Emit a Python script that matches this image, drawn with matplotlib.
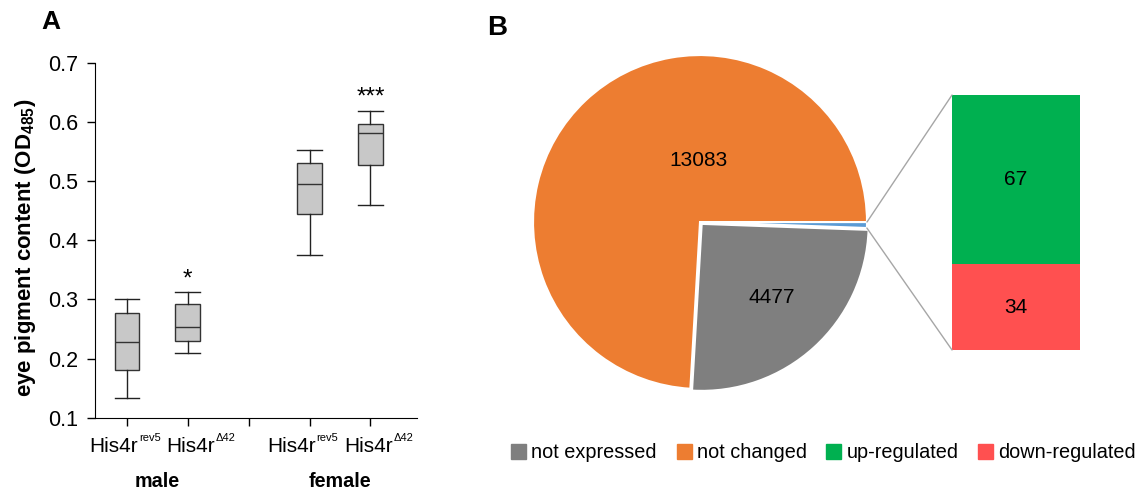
import matplotlib
matplotlib.use("Agg")
import matplotlib.pyplot as plt
from matplotlib.patches import Patch, ConnectionPatch
import numpy as np

plt.rcParams['font.family'] = ['Liberation Sans', 'DejaVu Sans']
plt.rcParams['mathtext.fontset'] = 'custom'
plt.rcParams['mathtext.rm'] = 'Liberation Sans'
plt.rcParams['mathtext.bf'] = 'Liberation Sans:bold'

# panel A: box summaries (whisker low, Q1, median, Q3, whisker high)
strain = "His4r"
alleles = ["rev5", "\u039442", "rev5", "\u039442"]
sexes = ["male", "female"]
whislo = [0.134, 0.209, 0.376, 0.459]
q1 = [0.181, 0.230, 0.444, 0.527]
med = [0.228, 0.254, 0.495, 0.582]
q3 = [0.277, 0.293, 0.530, 0.597]
whishi = [0.300, 0.312, 0.553, 0.619]
stars = ["", "*", "", "***"]
positions = [1, 2, 4, 5]

# panel B: gene counts
pie_labels = ["not expressed", "changed", "not changed"]
changed_labels = ["up-regulated", "down-regulated"]
not_expressed = 4477
not_changed = 13083
up = 67
down = 34

c_gray = "#7f7f7f"
c_orange = "#ed7d31"
c_blue = "#5b9bd5"
c_green = "#00b050"
c_red = "#ff5050"

fig = plt.figure(figsize=(11.47, 4.91), dpi=100)

# ---- A ----
axA = fig.add_axes([0.0828, 0.1493, 0.2805, 0.7224])
stats = []
for i in range(4):
    stats.append(dict(whislo=whislo[i], q1=q1[i], med=med[i], q3=q3[i],
                      whishi=whishi[i], fliers=[]))
axA.bxp(stats, positions=positions, widths=0.4, patch_artist=True,
        showfliers=False,
        boxprops=dict(facecolor="#c8c8c8", edgecolor="#333333", linewidth=1),
        medianprops=dict(color="#333333", linewidth=1),
        whiskerprops=dict(color="#222222", linewidth=1),
        capprops=dict(color="#222222", linewidth=1),
        capwidths=0.4)
for p, s, top in zip(positions, stars, whishi):
    if s:
        axA.annotate(s, xy=(p, top), xytext=(0, 7), textcoords="offset pixels",
                     ha="center", va="baseline", fontsize=17.5)
axA.set_xlim(0.478, 5.76)
axA.set_ylim(0.1, 0.7)
axA.set_xticks([1, 2, 3, 4, 5])
axA.set_xticklabels([])
axA.set_yticks(np.arange(0.1, 0.71, 0.1))
axA.set_yticklabels(["%.1f" % v for v in np.arange(0.1, 0.71, 0.1)], fontsize=15.5)
axA.tick_params(direction="out", length=6, width=1, pad=6)
axA.spines["top"].set_visible(False)
axA.spines["right"].set_visible(False)
axA.set_ylabel("eye pigment content (OD$_{\\mathbf{485}}$)", fontsize=16,
               fontweight="bold")
axA.yaxis.set_label_coords(-0.178, 0.48)

# genotype labels: strain name with a small superscript allele;
# the two labels of a pair are nudged apart so they do not run together
xt = axA.get_xaxis_transform()
nudge = [11, 27, 6, 22]
for p, a, dx in zip(positions, alleles, nudge):
    axA.annotate(strain, xy=(p, 0), xycoords=xt, xytext=(dx, -34),
                 textcoords="offset pixels", ha="right", va="baseline",
                 fontsize=15, annotation_clip=False)
    axA.annotate(a, xy=(p, 0), xycoords=xt, xytext=(dx + 1, -23),
                 textcoords="offset pixels", ha="left", va="baseline",
                 fontsize=8, annotation_clip=False)
for cx, lab in zip([1.5, 4.5], sexes):
    axA.annotate(lab, xy=(cx, 0), xycoords=xt, xytext=(0, -69),
                 textcoords="offset pixels", ha="center", va="baseline",
                 fontsize=14.2, fontweight="bold", annotation_clip=False)

fig.text(0.044, 0.955, "A", fontsize=19, fontweight="bold", va="center", ha="center")
fig.text(0.433, 0.943, "B", fontsize=20, fontweight="bold", va="center", ha="center")

# ---- B: pie ----
axP = fig.add_axes([0.4647, 0.2077, 0.2912, 0.6802])
changed = up + down
sizes = [not_expressed, changed, not_changed]
total = sum(sizes)
start = -(not_expressed + changed) / total * 360
wedges, _ = axP.pie(sizes, colors=[c_gray, c_blue, c_orange], startangle=start,
                    counterclock=True, explode=[0.015, 0, 0],
                    wedgeprops=dict(edgecolor="white", linewidth=1.5))
axP.set_xlim(-1, 1)
axP.set_ylim(-1, 1)
axP.set_aspect("equal")
axP.axis("off")
axP.text(-0.01, 0.37, str(not_changed), ha="center", va="center", fontsize=15)
axP.text(0.43, -0.45, str(not_expressed), ha="center", va="center", fontsize=15)

# ---- B: breakdown bar ----
axB = fig.add_axes([0.830, 0.2872, 0.1116, 0.5193])
axB.bar(0, down, width=1, color=c_red)
axB.bar(0, up, width=1, bottom=down, color=c_green)
axB.set_xlim(-0.5, 0.5)
axB.set_ylim(0, changed)
axB.axis("off")
axB.text(0, down + up / 2, str(up), ha="center", va="center", fontsize=15)
axB.text(0, down / 2, str(down), ha="center", va="center", fontsize=15)

# connector lines from the small slice to the bar
a0 = np.deg2rad(start + not_expressed / total * 360)
a1 = np.deg2rad(start + (not_expressed + changed) / total * 360)
for ang, yb in [(a1, changed), (a0, 0)]:
    con = ConnectionPatch(xyA=(np.cos(ang), np.sin(ang)), coordsA=axP.transData,
                          xyB=(-0.5, yb), coordsB=axB.transData,
                          color="#a6a6a6", linewidth=1)
    fig.add_artist(con)

handles = [Patch(color=c_gray, label=pie_labels[0]),
           Patch(color=c_orange, label=pie_labels[2]),
           Patch(color=c_green, label=changed_labels[0]),
           Patch(color=c_red, label=changed_labels[1])]
fig.legend(handles=handles, loc="center", bbox_to_anchor=(0.718, 0.0774), ncol=4,
           frameon=False, fontsize=14.3, handlelength=0.75, handleheight=0.75,
           handletextpad=0.25, columnspacing=1.0)

fig.savefig("out.png", dpi=100, facecolor="white")
